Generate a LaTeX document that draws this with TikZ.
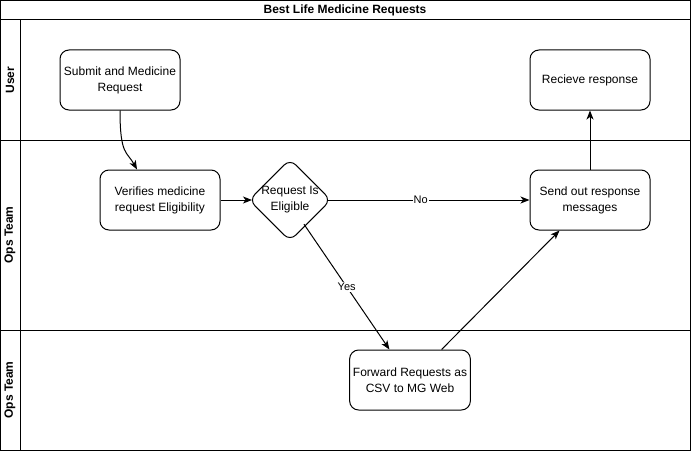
\documentclass[tikz,border=0pt]{standalone}
\usepackage{fontspec}
\setmainfont{Liberation Sans}
\usetikzlibrary{arrows.meta,shapes.geometric}
\begin{document}
\begin{tikzpicture}[x=1pt,y=-1pt,
  box/.style={draw,rounded corners=9pt,minimum width=120pt,minimum height=60pt,
    align=center,font=\fontsize{12}{16}\selectfont,line width=1pt},
  decision/.style={draw,diamond,rounded corners=8pt,minimum size=80pt,inner sep=0pt,
    line width=1pt,outer sep=-2pt},
  lane/.style={font=\bfseries\fontsize{12}{15}\selectfont,rotate=90},
  arr/.style={-{Stealth[length=9pt,width=7pt,inset=2.5pt]},line width=1pt},
  lbl/.style={fill=white,inner sep=1pt,font=\fontsize{11}{13}\selectfont}]

  \useasboundingbox (0,0) rectangle (692,452);

  \draw[line width=1pt] (0.5,0.5) rectangle (690.5,450);
  \draw[line width=1pt] (0.5,20) -- (690.5,20);
  \draw[line width=1pt] (0.5,140) -- (690.5,140);
  \draw[line width=1pt] (0.5,330) -- (690.5,330);
  \draw[line width=1pt] (20,20) -- (20,450);

  \node (title) at (345,10) [font=\bfseries\fontsize{12}{15}\selectfont] {Best Life Medicine Requests};
  \node (user) at (10,80) [lane] {User};
  \node (ops) at (10,235) [lane] {Ops Team};
  \node (opsb) at (10,390) [lane] {Ops Team};

  \node (submit) at (120,80) [box] {Submit and Medicine\\Request};
  \node (recv) at (590,80) [box] {Recieve response};

  \node (verify) at (160,200) [box] {Verifies medicine\\request Eligibility};
  \node (check) at (290,200) [decision,
    label={[align=center,font=\fontsize{12}{16}\selectfont]center:Request Is\\Eligible}] {};
  \node (send) at (590,200) [box] {Send out response\\messages};

  \node (fwd) at (410,380) [box] {Forward Requests as\\CSV to MG Web};

  \draw[arr] (submit.south) .. controls +(0,45) and +(-10,-18) .. (verify.127);
  \draw[arr] (verify.east) -- (check.west);
  \draw[arr] (check.east) -- node[lbl,pos=0.46] {No} (send.west);
  \draw[arr] (check.-60) -- node[lbl,pos=0.5] {Yes} (fwd.124);
  \draw[arr] (fwd.44) -- (send.-135);
  \draw[arr] (send.north) -- (recv.south);

\end{tikzpicture}
\end{document}
